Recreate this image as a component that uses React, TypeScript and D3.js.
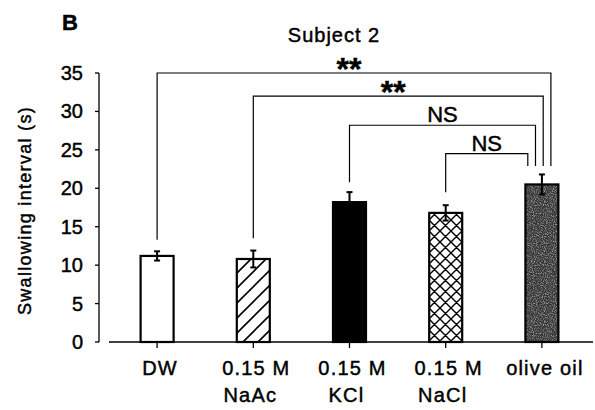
import React from "react";
import * as d3 from "d3";

const labelLine1 = ["DW", "0.15 M", "0.15 M", "0.15 M", "olive oil"];
const labelLine2 = ["", "NaAc", "KCl", "NaCl", ""];
const means = [11.2, 10.8, 18.2, 16.8, 20.5];
const errors = [0.6, 1.1, 1.3, 1.0, 1.3];
const fills = ["white", "url(#hatch)", "black", "url(#cross)", "url(#speckle)"];
const yTicks = [0, 5, 10, 15, 20, 25, 30, 35];

const bracketFrom = [0, 1, 2, 3];
const bracketTo = 4;
const bracketTop = [35, 32, 28.2, 24.5];
const bracketLeftEnd = [13.3, 13.5, 20.8, 19.5];
const bracketRightEnd = 22.9;
const bracketLabels = ["**", "**", "NS", "NS"];

const W = 595;
const H = 410;
const FONT = "'Liberation Sans', Arial, Helvetica, sans-serif";
const T = { stroke: "black", strokeWidth: 0.45 } as const;

export default function App() {
  const x = d3.scaleBand<number>().domain(d3.range(5)).range([109, 590]).padding(0);
  const y = d3.scaleLinear().domain([0, 35]).range([342, 73]);
  const cx = (i: number) => (x(i) as number) + x.bandwidth() / 2;
  const bw = 33;

  return (
    <svg
      width={W}
      height={H}
      style={{ position: "absolute", left: 0, top: 0, background: "white" }}
      fontFamily={FONT}
    >
      <defs>
        <pattern id="hatch" patternUnits="userSpaceOnUse" width="15" height="15">
          <rect width="15" height="15" fill="white" />
          <path d="M-2,17 L17,-2 M-9,9 L9,-9 M6,24 L24,6" stroke="black" strokeWidth="1.6" />
        </pattern>
        <pattern id="cross" patternUnits="userSpaceOnUse" width="11" height="11">
          <rect width="11" height="11" fill="white" />
          <path d="M0,0 L11,11 M0,11 L11,0 M-5.5,5.5 L5.5,16.5 M5.5,-5.5 L16.5,5.5 M-5.5,5.5 L5.5,-5.5 M5.5,16.5 L16.5,5.5" stroke="black" strokeWidth="1.4" />
        </pattern>
        <filter id="noise" x="0" y="0" width="100%" height="100%" colorInterpolationFilters="sRGB">
          <feTurbulence type="fractalNoise" baseFrequency="0.9" numOctaves="2" seed="3" />
          <feColorMatrix
            type="matrix"
            values="0 0 0 0 1  0 0 0 0 1  0 0 0 0 1  3 0 0 0 -1.3"
          />
        </filter>
        <pattern id="speckle" patternUnits="userSpaceOnUse" width="60" height="60">
          <rect width="60" height="60" fill="#383838" />
          <rect width="60" height="60" fill="white" filter="url(#noise)" opacity={0.45} />
        </pattern>
      </defs>

      {/* panel label and title */}
      <text x={62} y={30} fontSize={22} fontWeight="bold" {...T}>B</text>
      <text x={334} y={42} fontSize={20} textAnchor="middle" letterSpacing={1} {...T}>Subject 2</text>

      {/* y axis */}
      <line x1={99} x2={99} y1={y(35)} y2={y(0)} stroke="black" strokeWidth={1.3} />
      {yTicks.map((t) => (
        <g key={t}>
          <line x1={95} x2={99} y1={y(t)} y2={y(t)} stroke="black" strokeWidth={1.3} />
          <text x={83} y={y(t)} dy="0.35em" fontSize={20} textAnchor="end" {...T}>{t}</text>
        </g>
      ))}
      <text
        transform={`translate(31,${(y(0) + y(35)) / 2 + 3}) rotate(-90)`}
        fontSize={18}
        textAnchor="middle"
        letterSpacing={1.3}
        {...T}
      >
        Swallowing interval (s)
      </text>

      {/* bars */}
      {means.map((m, i) => (
        <rect
          key={i}
          x={cx(i) - bw / 2}
          y={y(m)}
          width={bw}
          height={y(0) - y(m)}
          fill={fills[i]}
          stroke="black"
          strokeWidth={2.2}
        />
      ))}

      {/* error bars */}
      {means.map((m, i) => (
        <g key={i} stroke="black" strokeWidth={2}>
          <line x1={cx(i)} x2={cx(i)} y1={y(m - errors[i])} y2={y(m + errors[i])} />
          <line x1={cx(i) - 3} x2={cx(i) + 3} y1={y(m + errors[i])} y2={y(m + errors[i])} />
          <line x1={cx(i) - 3} x2={cx(i) + 3} y1={y(m - errors[i])} y2={y(m - errors[i])} />
        </g>
      ))}

      {/* x axis */}
      <line x1={109} x2={593} y1={y(0)} y2={y(0)} stroke="black" strokeWidth={1.3} />
      {means.map((_, i) => (
        <g key={i}>
          <line x1={cx(i)} x2={cx(i)} y1={y(0)} y2={y(0) + 6} stroke="black" strokeWidth={1.3} />
          <text x={cx(i) + 3} y={375} fontSize={20} textAnchor="middle" letterSpacing={1.2} {...T}>
            {labelLine1[i]}
          </text>
          <text x={cx(i) - 3} y={402} fontSize={20} textAnchor="middle" letterSpacing={1.2} {...T}>
            {labelLine2[i]}
          </text>
        </g>
      ))}

      {/* significance brackets */}
      {bracketFrom.map((f, k) => {
        const xl = cx(f);
        const xr = cx(bracketTo) + 9 - k * 7.7;
        const yt = y(bracketTop[k]);
        const isStar = bracketLabels[k] === "**";
        return (
          <g key={k}>
            <path
              d={`M${xl},${y(bracketLeftEnd[k])} V${yt} H${xr} V${y(bracketRightEnd)}`}
              fill="none"
              stroke="black"
              strokeWidth={1.2}
            />
            <text
              x={(xl + xr) / 2 - (isStar ? 5 : 0)}
              y={isStar ? yt + 7 : yt - 3}
              fontSize={isStar ? 32 : 22}
              fontWeight={isStar ? "bold" : "normal"}
              textAnchor="middle"
              {...T}
            >
              {bracketLabels[k]}
            </text>
          </g>
        );
      })}
    </svg>
  );
}
